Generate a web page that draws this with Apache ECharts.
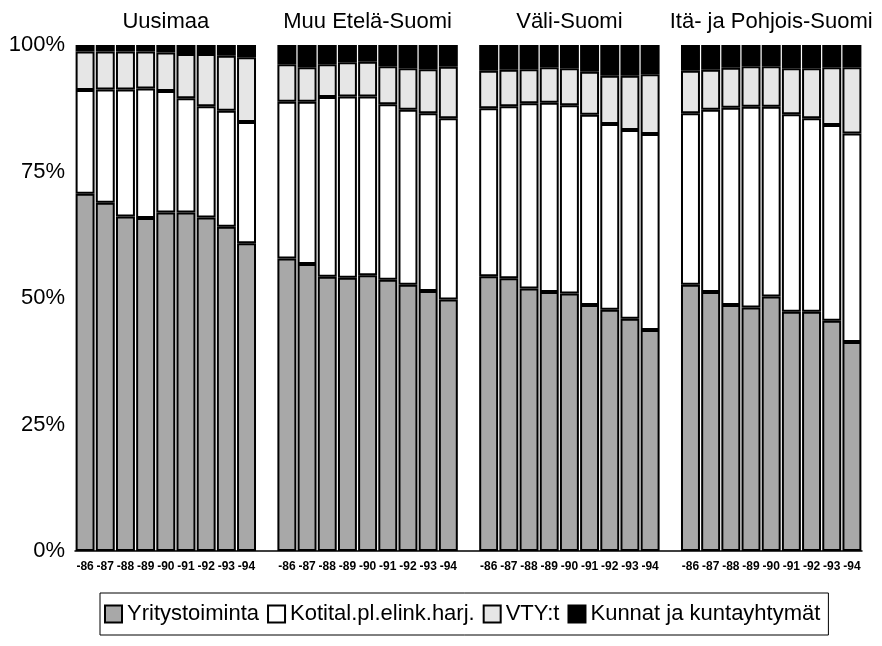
<!DOCTYPE html>
<html>
<head>
<meta charset="utf-8">
<script src="https://cdn.jsdelivr.net/npm/echarts@6/dist/echarts.min.js"></script>
<style>
  html, body { margin: 0; background: #fff; }
  #chart { width: 882px; height: 646px; }
</style>
</head>
<body>
<div id="chart"></div>
<script>
// alueet ja vuodet
var regions = ['Uusimaa', 'Muu Etelä-Suomi', 'Väli-Suomi', 'Itä- ja Pohjois-Suomi'];
var years = ['-86', '-87', '-88', '-89', '-90', '-91', '-92', '-93', '-94'];
var yTicks = [0, 25, 50, 75, 100];

// osuudet (%), alueittain 9 vuotta kerrallaan
var yritystoiminta = [
  70.6, 68.8, 66.1, 65.8, 66.9, 66.9, 65.9, 64.1, 60.8,
  57.8, 56.7, 54.2, 54.0, 54.5, 53.6, 52.6, 51.4, 49.7,
  54.3, 53.9, 51.9, 51.2, 50.9, 48.6, 47.7, 45.9, 43.7,
  52.6, 51.2, 48.6, 48.1, 50.3, 47.3, 47.3, 45.5, 41.3
];
var kotitaloudet = [
  20.5, 22.4, 25.1, 25.6, 24.0, 22.6, 22.0, 22.9, 24.0,
  31.0, 32.1, 35.5, 35.8, 35.3, 34.7, 34.6, 35.1, 35.8,
  33.2, 34.0, 36.6, 37.4, 37.2, 37.6, 36.7, 37.3, 38.7,
  33.9, 36.0, 39.0, 39.7, 37.5, 39.0, 38.2, 38.7, 41.2
];
var vty = [
  7.6, 7.5, 7.5, 7.3, 7.6, 8.7, 10.3, 10.9, 12.8,
  7.4, 6.8, 6.5, 6.8, 6.9, 7.5, 8.2, 8.7, 10.2,
  7.4, 7.2, 6.7, 7.0, 7.3, 8.5, 9.5, 10.7, 11.8,
  8.4, 7.9, 7.9, 8.0, 8.0, 9.1, 9.9, 11.4, 13.1
];
var kunnat = [
  1.3, 1.3, 1.3, 1.3, 1.5, 1.8, 1.8, 2.1, 2.4,
  3.8, 4.4, 3.8, 3.4, 3.3, 4.2, 4.6, 4.8, 4.3,
  5.1, 4.9, 4.8, 4.4, 4.6, 5.3, 6.1, 6.1, 5.8,
  5.1, 4.9, 4.5, 4.2, 4.2, 4.6, 4.6, 4.4, 4.4
];

var font = 'Liberation Sans, Arial, Helvetica, sans-serif';

// kategoriat: 9 vuotta per alue + tyhjä väli alueiden välissä
var categories = [];
var slotIndex = []; // -1 = väli
regions.forEach(function (r, ri) {
  years.forEach(function (y, yi) {
    categories.push(r + '|' + y);
    slotIndex.push(ri * years.length + yi);
  });
  if (ri < regions.length - 1) {
    categories.push('gap' + ri);
    slotIndex.push(-1);
  }
});

function spread(values) {
  return slotIndex.map(function (i) { return i < 0 ? '-' : values[i]; });
}

var gridLeft = 75, gridRight = 20;
var chartWidth = 882;
var slot = (chartWidth - gridLeft - gridRight) / categories.length;

var titles = regions.map(function (r, ri) {
  var start = ri * (years.length + 1);
  var center = gridLeft + slot * (start + years.length / 2);
  return {
    text: r,
    left: center,
    top: 11,
    textAlign: 'center',
    padding: 0,
    textStyle: { fontFamily: font, fontSize: 22, fontWeight: 'normal', color: '#000' }
  };
});

function barSeries(name, values, color) {
  return {
    name: name,
    type: 'bar',
    stack: 'total',
    barCategoryGap: '6%',
    data: spread(values),
    itemStyle: { color: color, borderColor: '#000', borderWidth: 2 },
    emphasis: { disabled: true }
  };
}

var chart = echarts.init(document.getElementById('chart'));
chart.setOption({
  animation: false,
  backgroundColor: '#fff',
  title: titles,
  grid: { left: gridLeft, right: gridRight, top: 45, bottom: 95 },
  legend: {
    left: 100,
    top: 593,
    padding: [10, 8, 10, 4],
    borderColor: '#000',
    borderWidth: 1,
    icon: 'rect',
    itemWidth: 17,
    itemHeight: 17,
    itemGap: 8,
    textStyle: { fontFamily: font, fontSize: 22, color: '#000' },
    data: ['Yritystoiminta', 'Kotital.pl.elink.harj.', 'VTY:t', 'Kunnat ja kuntayhtymät']
  },
  xAxis: {
    type: 'category',
    data: categories,
    axisTick: { show: false },
    axisLine: { lineStyle: { color: '#000', width: 1.5 } },
    axisLabel: {
      interval: 0,
      margin: 10,
      color: '#000',
      fontFamily: font,
      fontSize: 12,
      fontWeight: 'bold',
      formatter: function (v) {
        var p = v.split('|');
        return p.length > 1 ? p[1] : '';
      }
    }
  },
  yAxis: {
    type: 'value',
    min: yTicks[0],
    max: yTicks[yTicks.length - 1],
    interval: 25,
    splitLine: { show: false },
    axisLine: { show: false },
    axisTick: { show: false },
    axisLabel: {
      margin: 10,
      color: '#000',
      fontFamily: font,
      fontSize: 22,
      formatter: '{value}%'
    }
  },
  series: [
    barSeries('Yritystoiminta', yritystoiminta, '#a8a8a8'),
    barSeries('Kotital.pl.elink.harj.', kotitaloudet, '#ffffff'),
    barSeries('VTY:t', vty, '#e6e6e6'),
    barSeries('Kunnat ja kuntayhtymät', kunnat, '#000000')
  ]
});
</script>
</body>
</html>
